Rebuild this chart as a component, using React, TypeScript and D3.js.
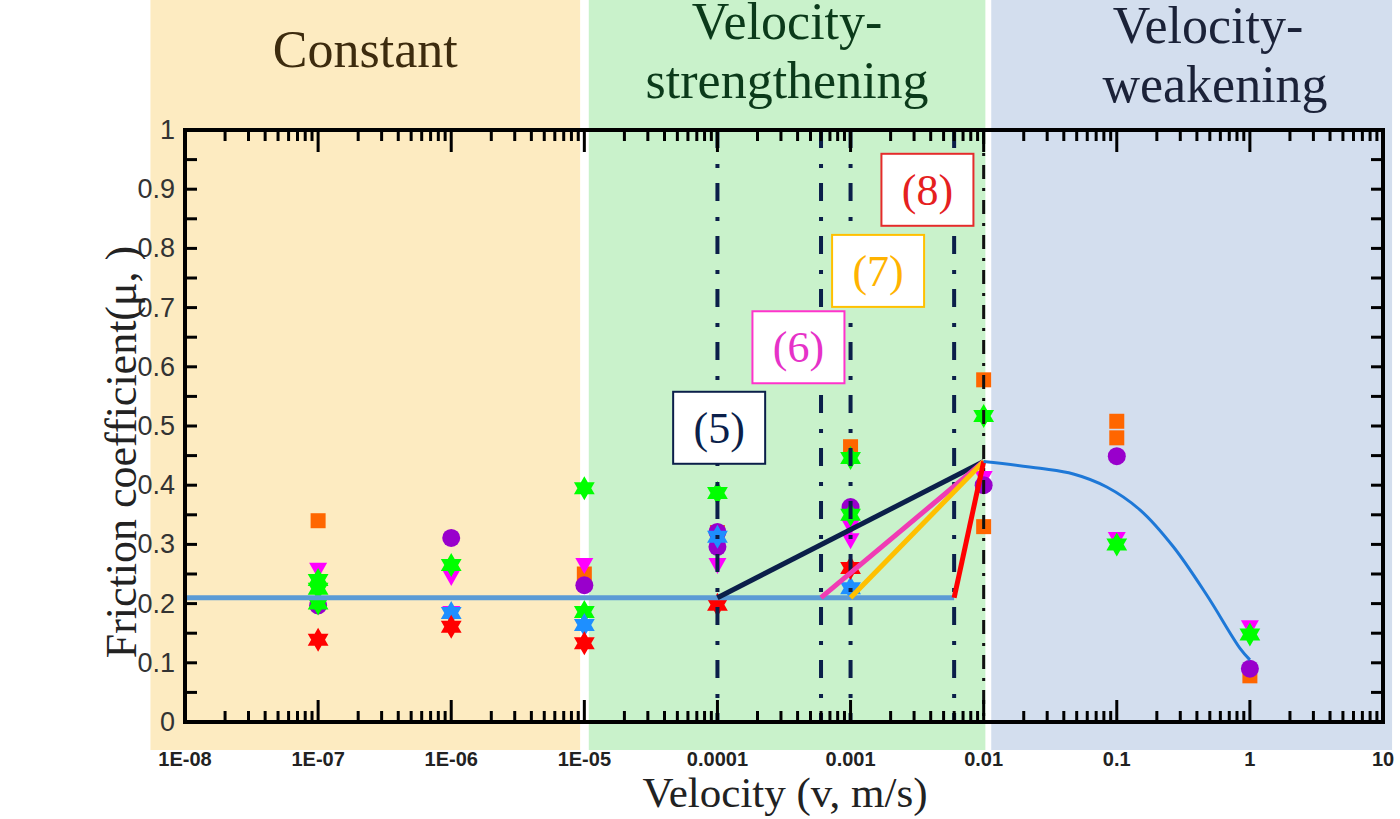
import React from "react";
import * as d3 from "d3";

// axis ticks
const xTickValues = [1e-8, 1e-7, 1e-6, 1e-5, 1e-4, 1e-3, 1e-2, 1e-1, 1, 10];
const xTickLabels = ["1E-08", "1E-07", "1E-06", "1E-05", "0.0001", "0.001", "0.01", "0.1", "1", "10"];
const yTickValues = [0, 0.1, 0.2, 0.3, 0.4, 0.5, 0.6, 0.7, 0.8, 0.9, 1];
const yTickLabels = ["0", "0.1", "0.2", "0.3", "0.4", "0.5", "0.6", "0.7", "0.8", "0.9", "1"];

// regime bands [from, to] in velocity
const bandNames = ["Constant", "Velocity-strengthening", "Velocity-weakening"];
const bandFrom = [5.5e-9, 1.08e-5, 0.0114];
const bandTo = [9.3e-6, 0.0103, 11.7];

// measured points, [velocity, friction]
const squares = [[1e-7, 0.34], [1e-5, 0.25], [1e-4, 0.32], [0.001, 0.465], [0.01, 0.578], [0.01, 0.33], [0.1, 0.508], [0.1, 0.48], [1, 0.078]];
const triangles = [[1e-7, 0.257], [1e-6, 0.245], [1e-6, 0.184], [1e-5, 0.265], [1e-4, 0.265], [0.001, 0.33], [0.001, 0.307], [0.01, 0.412], [0.1, 0.309], [1, 0.16]];
const circles = [[1e-7, 0.197], [1e-6, 0.311], [1e-5, 0.231], [1e-4, 0.321], [1e-4, 0.296], [0.001, 0.363], [0.01, 0.4], [0.1, 0.449], [1, 0.09]];
const greenStars = [[1e-7, 0.24], [1e-7, 0.225], [1e-7, 0.2], [1e-6, 0.265], [1e-5, 0.395], [1e-5, 0.186], [1e-4, 0.387], [0.001, 0.446], [0.001, 0.35], [0.01, 0.517], [0.1, 0.3], [1, 0.148]];
const blueStars = [[1e-6, 0.184], [1e-5, 0.164], [1e-4, 0.313], [0.001, 0.226]];
const redStars = [[1e-7, 0.139], [1e-6, 0.161], [1e-5, 0.133], [1e-4, 0.198], [0.001, 0.26]];

// model lines
const baseMu = 0.21;
const baseEnd = 0.006;
const peak = [0.01, 0.44];
const rampStarts = [1e-4, 0.0006, 0.001, 0.006];
const rampColors = ["#0b1f4a", "#f03cb4", "#ffc000", "#ff0000"];
const guideLines = [1e-4, 0.0006, 0.001, 0.006];
const weakeningCurve = [[0.01, 0.44], [0.0265, 0.4285], [0.0472, 0.419], [0.0841, 0.397], [0.15, 0.358], [0.266, 0.296], [0.474, 0.2145], [0.843, 0.1245], [1, 0.105]];

// labels (5)..(8), box centre [velocity, friction]
const noteText = ["(5)", "(6)", "(7)", "(8)"];
const noteAt = [[1.03e-4, 0.497], [4.06e-4, 0.633], [1.61e-3, 0.762], [3.78e-3, 0.899]];
const noteColor = ["#0b1f4a", "#ff33cc", "#ffc000", "#e52b2b"];
const noteTextColor = ["#0b1f4a", "#e632c8", "#ffb300", "#e52020"];

const serif = "'Liberation Serif', 'Times New Roman', serif";
const sans = "'Liberation Sans', Arial, sans-serif";

const hexagram = (r) => {
  const pts = [];
  for (let i = 0; i < 12; i++) {
    const rr = i % 2 === 0 ? r : r / Math.sqrt(3);
    const a = (Math.PI / 6) * i - Math.PI / 2;
    pts.push([rr * Math.cos(a), rr * Math.sin(a)]);
  }
  return "M" + pts.map((p) => p.join(",")).join("L") + "Z";
};

export default function App() {
  const x = d3.scaleLog().domain([1e-8, 10]).range([185, 1383]);
  const y = d3.scaleLinear().domain([0, 1]).range([722, 130]);
  const [left, right] = x.range();
  const [bottom, top] = y.range();

  const bandColors = ["#fdebc1", "#c9f2cb", "#d3deee"];
  const bandTitleColors = ["#3d2b0e", "#0b3a1a", "#1b2238"];

  const minorX = [];
  for (let d = 1e-8; d < 5; d *= 10) {
    for (let k = 2; k <= 9; k++) minorX.push(d * k);
  }
  const minorY = yTickValues.slice(0, -1).map((v) => v + 0.05);

  const curve = d3
    .line()
    .x((d) => x(d[0]))
    .y((d) => y(d[1]))
    .curve(d3.curveCatmullRom.alpha(0.5));

  const star = hexagram(12);
  const tri = "M-9,-7L9,-7L0,9Z";
  const midGreen = (x(bandFrom[1]) + x(bandTo[1])) / 2;

  return (
    <svg width={1400} height={819} style={{ position: "absolute", left: 0, top: 0, background: "#fff" }}>
      {/* regime bands */}
      {bandNames.map((n, i) => (
        <rect key={n} x={x(bandFrom[i])} y={0} width={x(bandTo[i]) - x(bandFrom[i])} height={750} fill={bandColors[i]} />
      ))}
      <text x={(x(bandFrom[0]) + x(bandTo[0])) / 2} y={67} textAnchor="middle" fontFamily={serif} fontSize={52} fill={bandTitleColors[0]}>
        Constant
      </text>
      <text textAnchor="middle" fontFamily={serif} fontSize={52} fill={bandTitleColors[1]}>
        <tspan x={midGreen} y={39}>Velocity-</tspan>
        <tspan x={midGreen} y={98}>strengthening</tspan>
      </text>
      <text textAnchor="middle" fontFamily={serif} fontSize={52} fill={bandTitleColors[2]}>
        <tspan x={1208} y={43}>Velocity-</tspan>
        <tspan x={1215} y={102}>weakening</tspan>
      </text>

      {/* markers */}
      {squares.map((d, i) => (
        <rect key={"s" + i} x={x(d[0]) - 7.5} y={y(d[1]) - 7.5} width={15} height={15} fill="#ff6600" />
      ))}
      {triangles.map((d, i) => (
        <path key={"t" + i} d={tri} transform={`translate(${x(d[0])},${y(d[1])})`} fill="#ff00ff" />
      ))}
      {circles.map((d, i) => (
        <circle key={"c" + i} cx={x(d[0])} cy={y(d[1])} r={9} fill="#9900cc" />
      ))}
      {greenStars.map((d, i) => (
        <path key={"g" + i} d={star} transform={`translate(${x(d[0])},${y(d[1])})`} fill="#00ff00" />
      ))}
      {blueStars.map((d, i) => (
        <path key={"b" + i} d={star} transform={`translate(${x(d[0])},${y(d[1])})`} fill="#1e8fff" />
      ))}
      {redStars.map((d, i) => (
        <path key={"r" + i} d={star} transform={`translate(${x(d[0])},${y(d[1])})`} fill="#ff0000" />
      ))}

      {/* guide lines */}
      {guideLines.map((v) => (
        <line key={v} x1={x(v)} x2={x(v)} y1={top} y2={bottom} stroke="#0b1f4a" strokeWidth={4} strokeDasharray="18 16 4 15" />
      ))}
      <line x1={x(peak[0])} x2={x(peak[0])} y1={top} y2={bottom} stroke="#111" strokeWidth={3} strokeDasharray="14 9 3 9" />

      {/* model */}
      <line x1={left} x2={x(baseEnd)} y1={y(baseMu)} y2={y(baseMu)} stroke="#5b9bd5" strokeWidth={5} />
      {rampStarts.map((v, i) => (
        <line key={v} x1={x(v)} y1={y(baseMu)} x2={x(peak[0])} y2={y(peak[1])} stroke={rampColors[i]} strokeWidth={5} />
      ))}
      <path d={curve(weakeningCurve)} fill="none" stroke="#1e78d7" strokeWidth={3} />

      {/* frame + ticks */}
      <rect x={left} y={top} width={right - left} height={bottom - top} fill="none" stroke="#000" strokeWidth={4} />
      {xTickValues.map((v) => (
        <g key={"xt" + v}>
          <line x1={x(v)} x2={x(v)} y1={bottom} y2={bottom - 22} stroke="#000" strokeWidth={3} />
          <line x1={x(v)} x2={x(v)} y1={top} y2={top + 22} stroke="#000" strokeWidth={3} />
        </g>
      ))}
      {minorX.map((v) => (
        <g key={"xm" + v}>
          <line x1={x(v)} x2={x(v)} y1={bottom} y2={bottom - 11} stroke="#000" strokeWidth={3} />
          <line x1={x(v)} x2={x(v)} y1={top} y2={top + 11} stroke="#000" strokeWidth={3} />
        </g>
      ))}
      {yTickValues.concat(minorY).map((v) => (
        <g key={"yt" + v}>
          <line x1={left} x2={left + 12} y1={y(v)} y2={y(v)} stroke="#000" strokeWidth={3} />
          <line x1={right} x2={right - 12} y1={y(v)} y2={y(v)} stroke="#000" strokeWidth={3} />
        </g>
      ))}

      {/* tick labels */}
      {xTickValues.map((v, i) => (
        <text key={"xl" + v} x={x(v)} y={766} textAnchor="middle" fontFamily={sans} fontWeight="bold" fontSize={20} fill="#222">
          {xTickLabels[i]}
        </text>
      ))}
      {yTickValues.map((v, i) => (
        <text key={"yl" + v} x={175} y={y(v) + 9} textAnchor="end" fontFamily={sans} fontSize={27} fill="#333">
          {yTickLabels[i]}
        </text>
      ))}

      {/* axis titles */}
      <text x={785} y={807} textAnchor="middle" fontFamily={serif} fontSize={43} fill="#222">
        Velocity (v, m/s)
      </text>
      <text transform="translate(136,452) rotate(-90)" textAnchor="middle" fontFamily={serif} fontSize={44} fill="#222">
        Friction coefficient(μ, )
      </text>

      {/* notes */}
      {noteText.map((t, i) => {
        const cx = x(noteAt[i][0]);
        const cy = y(noteAt[i][1]);
        return (
          <g key={t}>
            <rect x={cx - 46} y={cy - 36} width={92} height={72} fill="#fff" stroke={noteColor[i]} strokeWidth={2} />
            <text x={cx} y={cy + 15} textAnchor="middle" fontFamily={serif} fontSize={44} fill={noteTextColor[i]}>
              {t}
            </text>
          </g>
        );
      })}
    </svg>
  );
}
